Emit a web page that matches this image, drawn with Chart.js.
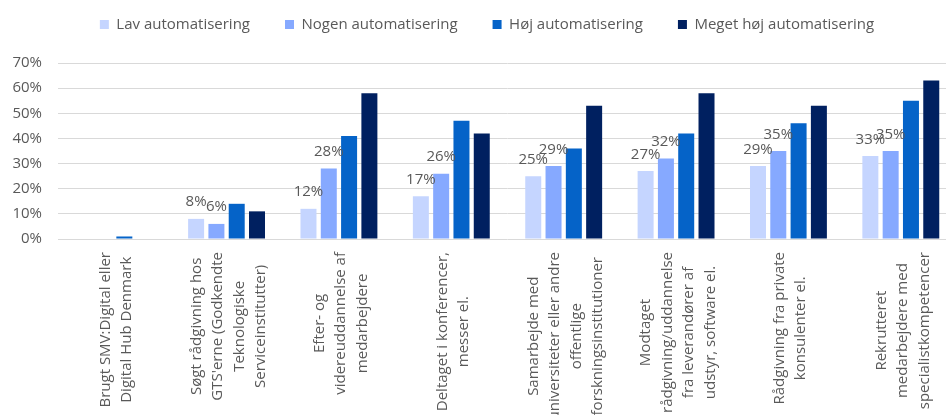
<!DOCTYPE html>
<html>
<head>
<meta charset="utf-8">
<script src="https://cdn.jsdelivr.net/npm/chart.js@4"></script>
<style>
  html, body { margin: 0; padding: 0; background: #fff; overflow: hidden; }
  canvas { display: block; }
</style>
</head>
<body>
<canvas id="automationChart" width="960" height="415"></canvas>
<script>
// Categories (multi-line, as in the original)
const categories = [
  ["Brugt SMV:Digital eller", "Digital Hub Denmark"],
  ["Søgt rådgivning hos", "GTS'erne (Godkendte", "Teknologiske", "Serviceinstitutter)"],
  ["Efter- og", "videreuddannelse af", "medarbejdere"],
  ["Deltaget i konferencer,", "messer el."],
  ["Samarbejde med", "universiteter eller andre", "offentlige", "forskningsinstitutioner"],
  ["Modtaget", "rådgivning/uddannelse", "fra leverandører af", "udstyr, software el."],
  ["Rådgivning fra private", "konsulenter el."],
  ["Rekrutteret", "medarbejdere med", "specialistkompetencer"]
];

const seriesNames = ["Lav automatisering", "Nogen automatisering", "Høj automatisering", "Meget høj automatisering"];

// Values in percent
const lav = [0, 8, 12, 17, 25, 27, 29, 33];
const nogen = [0, 6, 28, 26, 29, 32, 35, 35];
const hoj = [1, 14, 41, 47, 36, 42, 46, 55];
const meget = [0, 11, 58, 42, 53, 58, 53, 63];

const yTicks = [0, 10, 20, 30, 40, 50, 60, 70];

const colors = ["#C5D5FF", "#86A9FF", "#0563C8", "#002060"];
const textColor = "#595959";
const gridColor = "#D9D9D9";
const fontFamily = "'Open Sans', sans-serif";

// Extra space between legend and plot, and nudge legend to the right
const legendSpacer = {
  id: "legendSpacer",
  beforeInit(chart) {
    const origFit = chart.legend.fit;
    chart.legend.fit = function () {
      origFit.bind(chart.legend)();
      this.height += 21;
    };
  },
  beforeDraw(chart) {
    chart.legend.left = 17;
  }
};

// Percent labels above the two lightest series
const valueLabels = {
  id: "valueLabels",
  afterDatasetsDraw(chart) {
    const ctx = chart.ctx;
    ctx.save();
    ctx.font = "15px " + fontFamily;
    ctx.fillStyle = textColor;
    ctx.textAlign = "center";
    ctx.textBaseline = "alphabetic";
    [0, 1].forEach(function (di) {
      const meta = chart.getDatasetMeta(di);
      const values = chart.data.datasets[di].data;
      meta.data.forEach(function (bar, i) {
        if (!values[i]) return;
        ctx.fillText(values[i] + "%", bar.x, bar.y - 12.5);
      });
    });
    ctx.restore();
  }
};

// Rotated, center-aligned category labels
const categoryLabels = {
  id: "categoryLabels",
  afterDraw(chart) {
    const ctx = chart.ctx;
    const xScale = chart.scales.x;
    const top = chart.chartArea.bottom + 13;
    const lineHeight = 21.5;
    ctx.save();
    ctx.font = "15px " + fontFamily;
    ctx.fillStyle = textColor;
    ctx.textAlign = "center";
    ctx.textBaseline = "middle";
    chart.data.labels.forEach(function (lines, i) {
      const x = xScale.getPixelForValue(i);
      let maxW = 0;
      lines.forEach(function (l) { maxW = Math.max(maxW, ctx.measureText(l).width); });
      ctx.save();
      ctx.translate(x + 2, top + maxW / 2);
      ctx.rotate(-Math.PI / 2);
      lines.forEach(function (l, j) {
        ctx.fillText(l, 0, (j - (lines.length - 1) / 2) * lineHeight);
      });
      ctx.restore();
    });
    ctx.restore();
  }
};

const seriesData = [lav, nogen, hoj, meget];

new Chart(document.getElementById("automationChart"), {
  type: "bar",
  data: {
    labels: categories,
    datasets: seriesData.map(function (d, i) {
      return {
        label: seriesNames[i],
        data: d,
        backgroundColor: colors[i],
        categoryPercentage: 0.7226,
        barPercentage: 0.788
      };
    })
  },
  options: {
    responsive: false,
    animation: false,
    devicePixelRatio: 1,
    layout: { padding: { top: -18, left: 0, right: 3, bottom: 0 } },
    plugins: {
      legend: {
        position: "top",
        labels: {
          color: textColor,
          font: { family: fontFamily, size: 15 },
          boxWidth: 9,
          boxHeight: 9,
          padding: 35
        }
      },
      tooltip: { enabled: false }
    },
    scales: {
      x: {
        grid: { display: false },
        border: { display: false },
        ticks: { display: false },
        afterFit: function (scale) { scale.height = 176; }
      },
      y: {
        min: 0,
        max: 70,
        afterBuildTicks: function (scale) {
          scale.ticks = yTicks.map(function (v) { return { value: v }; });
        },
        ticks: {
          color: textColor,
          font: { family: fontFamily, size: 15 },
          padding: 16,
          callback: function (v) { return v + "%"; }
        },
        grid: { color: gridColor, drawTicks: false },
        border: { display: false },
        afterFit: function (scale) { scale.width = 58; }
      }
    }
  },
  plugins: [legendSpacer, valueLabels, categoryLabels]
});
</script>
</body>
</html>
